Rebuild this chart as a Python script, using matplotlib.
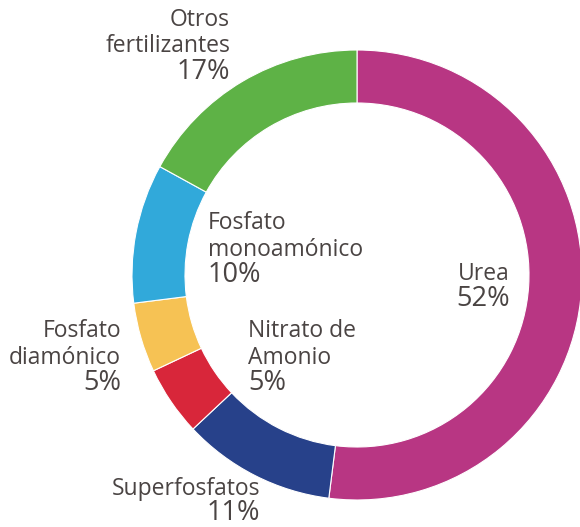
import matplotlib
matplotlib.use("Agg")
import matplotlib.pyplot as plt

# Fertilizer consumption shares (%), clockwise from 12 o'clock
categories = ["Urea", "Superfosfatos", "Nitrato de Amonio", "Fosfato diamónico",
              "Fosfato monoamónico", "Otros fertilizantes"]
shares = [52, 11, 5, 5, 10, 17]
colors = ["#B83683", "#27418A", "#D8263A", "#F6C254", "#31A9DA", "#5EB246"]

# Label text lines, anchor x, first baseline (pixels from top) and alignment
label_lines = [
    ["Urea"],
    ["Superfosfatos"],
    ["Nitrato de", "Amonio"],
    ["Fosfato", "diamónico"],
    ["Fosfato", "monoamónico"],
    ["Otros", "fertilizantes"],
]
label_anchor = [(510, 280, "right"), (260, 495, "right"), (248, 337, "left"),
                (121, 337, "right"), (208, 229, "left"), (230, 26, "right")]

W, H = 580, 527
fig = plt.figure(figsize=(W / 100, H / 100), dpi=100)
ax = fig.add_axes([0, 0, 1, 1])

cx, cy, R = 357, H - 275, 225
ax.pie(shares, colors=colors, startangle=90, counterclock=False,
       center=(cx, cy), radius=R, frame=True,
       wedgeprops=dict(width=53, edgecolor="white", linewidth=0.8))
ax.set_xlim(0, W)
ax.set_ylim(0, H)
ax.set_aspect("equal")
ax.axis("off")

line_h = 26.5
text_color = "#4A4443"
for lines, val, (x, y, ha) in zip(label_lines, shares, label_anchor):
    for i, t in enumerate(lines):
        ax.text(x, H - (y + i * line_h), t, ha=ha, va="baseline",
                fontsize=16.5, family="Open Sans", color=text_color)
    # the bottom label's value sits a little tighter so it stays inside the canvas
    step = line_h if y < 450 else 25
    ax.text(x, H - (y + (len(lines) - 1) * line_h + step), f"{val}%", ha=ha,
            va="baseline", fontsize=19.5, family="Open Sans", color=text_color)

fig.savefig("out.png", dpi=100)
